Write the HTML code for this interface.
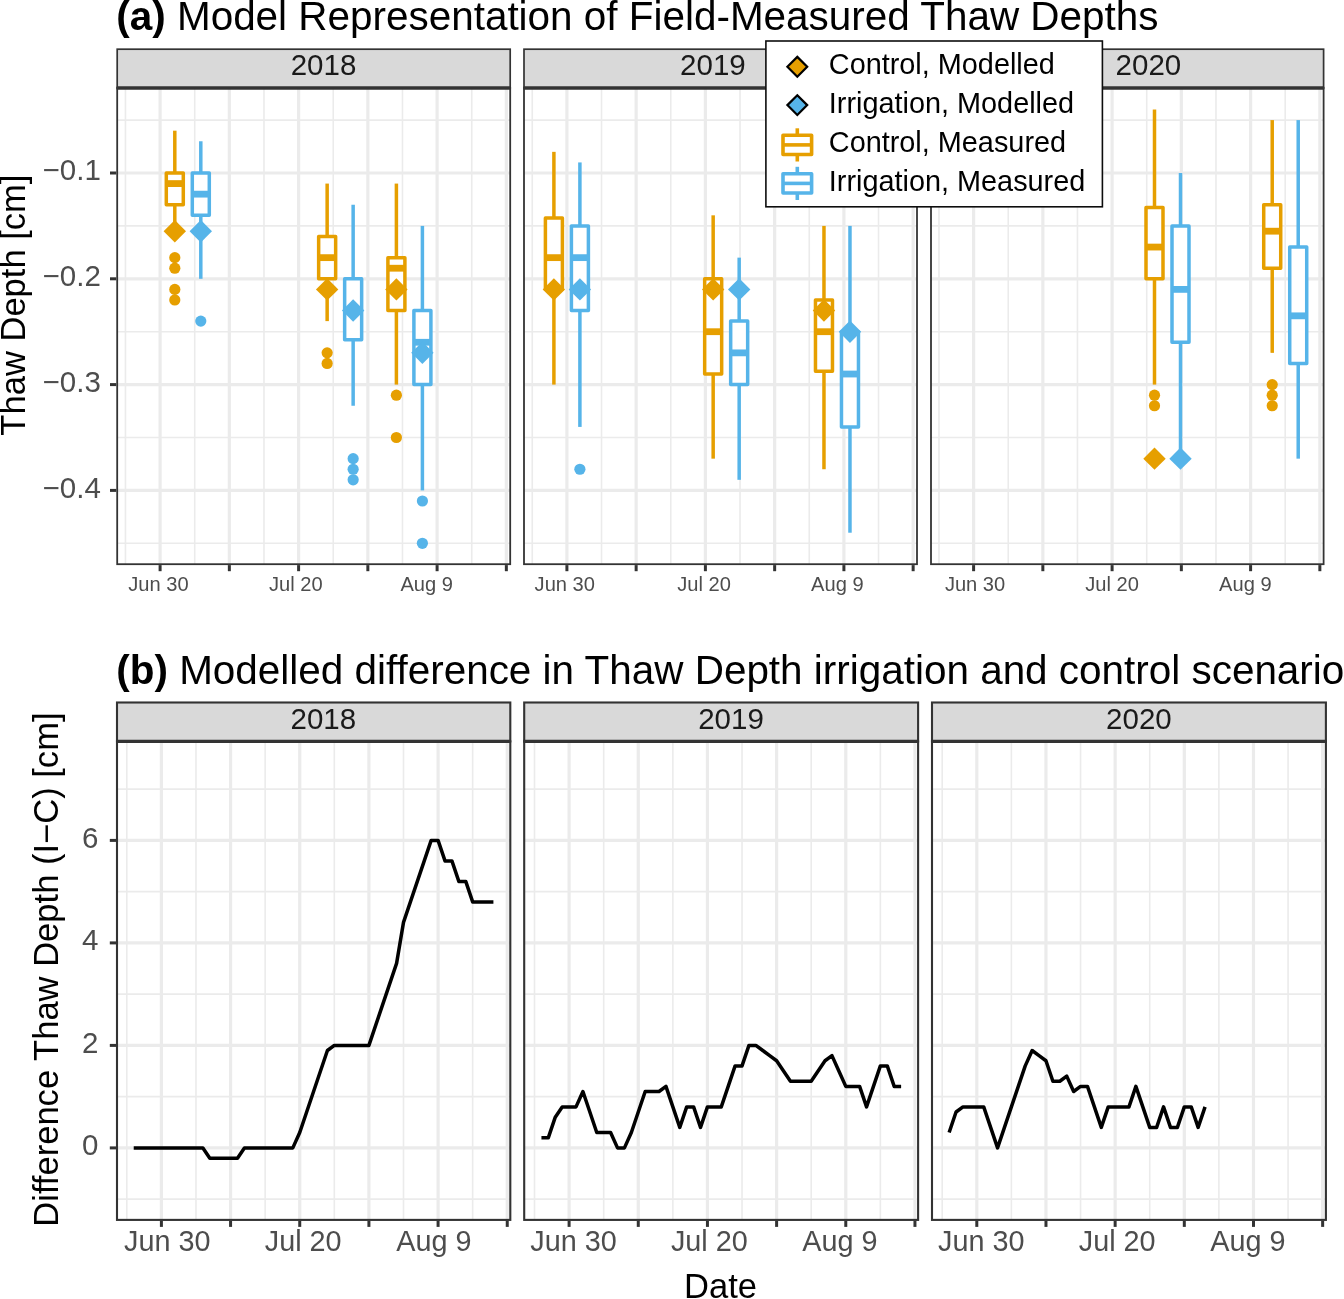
<!DOCTYPE html>
<html><head><meta charset="utf-8"><title>Thaw depth figure</title>
<style>html,body{margin:0;padding:0;background:#fff;}body{width:1344px;height:1299px;overflow:hidden;}svg{display:block;will-change:transform;}</style>
</head><body>
<svg width="1344" height="1299" viewBox="0 0 1344 1299" font-family='"Liberation Sans", sans-serif'>
<rect width="1344" height="1299" fill="#fff"/>
<text x="116.3" y="29.6" font-size="40.45" fill="#000"><tspan font-weight="bold">(a)</tspan> Model Representation of Field-Measured Thaw Depths</text>
<text x="116.3" y="683.5" font-size="40.45" fill="#000"><tspan font-weight="bold">(b)</tspan> Modelled difference in Thaw Depth irrigation and control scenario</text>
<text transform="translate(24.6 305.1) rotate(-90)" font-size="34.56" fill="#000" text-anchor="middle">Thaw Depth [cm]</text>
<text transform="translate(57.7 969.6) rotate(-90)" font-size="34.56" fill="#000" text-anchor="middle">Difference Thaw Depth (I−C) [cm]</text>
<text x="720.5" y="1297.5" font-size="34.56" fill="#000" text-anchor="middle">Date</text>
<rect x="117.2" y="88" width="393" height="476.2" fill="#fff"/>
<line x1="117.2" x2="510.2" y1="120.1" y2="120.1" stroke="#ebebeb" stroke-width="1.6"/>
<line x1="117.2" x2="510.2" y1="225.9" y2="225.9" stroke="#ebebeb" stroke-width="1.6"/>
<line x1="117.2" x2="510.2" y1="331.7" y2="331.7" stroke="#ebebeb" stroke-width="1.6"/>
<line x1="117.2" x2="510.2" y1="437.5" y2="437.5" stroke="#ebebeb" stroke-width="1.6"/>
<line x1="117.2" x2="510.2" y1="543.3" y2="543.3" stroke="#ebebeb" stroke-width="1.6"/>
<line x1="125.47" x2="125.47" y1="88" y2="564.2" stroke="#ebebeb" stroke-width="1.6"/>
<line x1="194.72" x2="194.72" y1="88" y2="564.2" stroke="#ebebeb" stroke-width="1.6"/>
<line x1="263.98" x2="263.98" y1="88" y2="564.2" stroke="#ebebeb" stroke-width="1.6"/>
<line x1="333.23" x2="333.23" y1="88" y2="564.2" stroke="#ebebeb" stroke-width="1.6"/>
<line x1="402.48" x2="402.48" y1="88" y2="564.2" stroke="#ebebeb" stroke-width="1.6"/>
<line x1="471.73" x2="471.73" y1="88" y2="564.2" stroke="#ebebeb" stroke-width="1.6"/>
<line x1="117.2" x2="510.2" y1="173" y2="173" stroke="#ebebeb" stroke-width="3.2"/>
<line x1="117.2" x2="510.2" y1="278.8" y2="278.8" stroke="#ebebeb" stroke-width="3.2"/>
<line x1="117.2" x2="510.2" y1="384.6" y2="384.6" stroke="#ebebeb" stroke-width="3.2"/>
<line x1="117.2" x2="510.2" y1="490.4" y2="490.4" stroke="#ebebeb" stroke-width="3.2"/>
<line x1="160.1" x2="160.1" y1="88" y2="564.2" stroke="#ebebeb" stroke-width="3.2"/>
<line x1="229.35" x2="229.35" y1="88" y2="564.2" stroke="#ebebeb" stroke-width="3.2"/>
<line x1="298.6" x2="298.6" y1="88" y2="564.2" stroke="#ebebeb" stroke-width="3.2"/>
<line x1="367.85" x2="367.85" y1="88" y2="564.2" stroke="#ebebeb" stroke-width="3.2"/>
<line x1="437.1" x2="437.1" y1="88" y2="564.2" stroke="#ebebeb" stroke-width="3.2"/>
<line x1="506.35" x2="506.35" y1="88" y2="564.2" stroke="#ebebeb" stroke-width="3.2"/>
<line x1="174.8" x2="174.8" y1="130.68" y2="173" stroke="#E69F00" stroke-width="3.5"/>
<line x1="174.8" x2="174.8" y1="204.74" y2="236.48" stroke="#E69F00" stroke-width="3.5"/>
<rect x="166.3" y="173" width="17" height="31.74" fill="#fff" stroke="#E69F00" stroke-width="3.5" stroke-linejoin="round"/>
<line x1="166.3" x2="183.3" y1="183.58" y2="183.58" stroke="#E69F00" stroke-width="6.8"/>
<circle cx="174.8" cy="257.64" r="5.6" fill="#E69F00"/>
<circle cx="174.8" cy="268.22" r="5.6" fill="#E69F00"/>
<circle cx="174.8" cy="289.38" r="5.6" fill="#E69F00"/>
<circle cx="174.8" cy="299.96" r="5.6" fill="#E69F00"/>
<line x1="200.8" x2="200.8" y1="141.26" y2="173" stroke="#56B4E9" stroke-width="3.5"/>
<line x1="200.8" x2="200.8" y1="215.32" y2="278.8" stroke="#56B4E9" stroke-width="3.5"/>
<rect x="192.3" y="173" width="17" height="42.32" fill="#fff" stroke="#56B4E9" stroke-width="3.5" stroke-linejoin="round"/>
<line x1="192.3" x2="209.3" y1="194.16" y2="194.16" stroke="#56B4E9" stroke-width="6.8"/>
<circle cx="200.8" cy="321.12" r="5.6" fill="#56B4E9"/>
<line x1="327.15" x2="327.15" y1="183.58" y2="236.48" stroke="#E69F00" stroke-width="3.5"/>
<line x1="327.15" x2="327.15" y1="278.8" y2="321.12" stroke="#E69F00" stroke-width="3.5"/>
<rect x="318.65" y="236.48" width="17" height="42.32" fill="#fff" stroke="#E69F00" stroke-width="3.5" stroke-linejoin="round"/>
<line x1="318.65" x2="335.65" y1="257.64" y2="257.64" stroke="#E69F00" stroke-width="6.8"/>
<circle cx="327.15" cy="352.86" r="5.6" fill="#E69F00"/>
<circle cx="327.15" cy="363.44" r="5.6" fill="#E69F00"/>
<line x1="353.15" x2="353.15" y1="204.74" y2="278.8" stroke="#56B4E9" stroke-width="3.5"/>
<line x1="353.15" x2="353.15" y1="339.63" y2="405.76" stroke="#56B4E9" stroke-width="3.5"/>
<rect x="344.65" y="278.8" width="17" height="60.83" fill="#fff" stroke="#56B4E9" stroke-width="3.5" stroke-linejoin="round"/>
<line x1="344.65" x2="361.65" y1="310.54" y2="310.54" stroke="#56B4E9" stroke-width="6.8"/>
<circle cx="353.15" cy="458.66" r="5.6" fill="#56B4E9"/>
<circle cx="353.15" cy="469.24" r="5.6" fill="#56B4E9"/>
<circle cx="353.15" cy="479.82" r="5.6" fill="#56B4E9"/>
<line x1="396.4" x2="396.4" y1="183.58" y2="257.64" stroke="#E69F00" stroke-width="3.5"/>
<line x1="396.4" x2="396.4" y1="310.54" y2="384.6" stroke="#E69F00" stroke-width="3.5"/>
<rect x="387.9" y="257.64" width="17" height="52.9" fill="#fff" stroke="#E69F00" stroke-width="3.5" stroke-linejoin="round"/>
<line x1="387.9" x2="404.9" y1="268.22" y2="268.22" stroke="#E69F00" stroke-width="6.8"/>
<circle cx="396.4" cy="395.18" r="5.6" fill="#E69F00"/>
<circle cx="396.4" cy="437.5" r="5.6" fill="#E69F00"/>
<line x1="422.4" x2="422.4" y1="225.9" y2="310.54" stroke="#56B4E9" stroke-width="3.5"/>
<line x1="422.4" x2="422.4" y1="384.6" y2="490.4" stroke="#56B4E9" stroke-width="3.5"/>
<rect x="413.9" y="310.54" width="17" height="74.06" fill="#fff" stroke="#56B4E9" stroke-width="3.5" stroke-linejoin="round"/>
<line x1="413.9" x2="430.9" y1="342.28" y2="342.28" stroke="#56B4E9" stroke-width="6.8"/>
<circle cx="422.4" cy="500.98" r="5.6" fill="#56B4E9"/>
<circle cx="422.4" cy="543.3" r="5.6" fill="#56B4E9"/>
<path d="M174.8 219.99L186 231.19L174.8 242.39L163.6 231.19Z" fill="#E69F00"/>
<path d="M200.8 219.99L212 231.19L200.8 242.39L189.6 231.19Z" fill="#56B4E9"/>
<path d="M327.15 278.18L338.35 289.38L327.15 300.58L315.95 289.38Z" fill="#E69F00"/>
<path d="M353.15 299.34L364.35 310.54L353.15 321.74L341.95 310.54Z" fill="#56B4E9"/>
<path d="M396.4 278.18L407.6 289.38L396.4 300.58L385.2 289.38Z" fill="#E69F00"/>
<path d="M422.4 341.66L433.6 352.86L422.4 364.06L411.2 352.86Z" fill="#56B4E9"/>
<rect x="117.2" y="49.2" width="393" height="38.8" fill="#d9d9d9" stroke="#333333" stroke-width="1.7"/>
<text x="323.5" y="75.4" font-size="29.5" fill="#1a1a1a" text-anchor="middle">2018</text>
<rect x="117.2" y="88" width="393" height="476.2" fill="none" stroke="#333333" stroke-width="1.8"/>
<line x1="116.7" x2="510.7" y1="88" y2="88" stroke="#333333" stroke-width="3.4"/>
<line x1="160.1" x2="160.1" y1="565.1" y2="571.2" stroke="#333333" stroke-width="3"/>
<line x1="229.35" x2="229.35" y1="565.1" y2="571.2" stroke="#333333" stroke-width="3"/>
<line x1="298.6" x2="298.6" y1="565.1" y2="571.2" stroke="#333333" stroke-width="3"/>
<line x1="367.85" x2="367.85" y1="565.1" y2="571.2" stroke="#333333" stroke-width="3"/>
<line x1="437.1" x2="437.1" y1="565.1" y2="571.2" stroke="#333333" stroke-width="3"/>
<line x1="506.35" x2="506.35" y1="565.1" y2="571.2" stroke="#333333" stroke-width="3"/>
<text x="128.3" y="590.5" font-size="20.1" fill="#4d4d4d">Jun 30</text>
<text x="269" y="590.5" font-size="20.1" fill="#4d4d4d">Jul 20</text>
<text x="400.4" y="590.5" font-size="20.1" fill="#4d4d4d">Aug 9</text>
<rect x="524" y="88" width="393" height="476.2" fill="#fff"/>
<line x1="524" x2="917" y1="120.1" y2="120.1" stroke="#ebebeb" stroke-width="1.6"/>
<line x1="524" x2="917" y1="225.9" y2="225.9" stroke="#ebebeb" stroke-width="1.6"/>
<line x1="524" x2="917" y1="331.7" y2="331.7" stroke="#ebebeb" stroke-width="1.6"/>
<line x1="524" x2="917" y1="437.5" y2="437.5" stroke="#ebebeb" stroke-width="1.6"/>
<line x1="524" x2="917" y1="543.3" y2="543.3" stroke="#ebebeb" stroke-width="1.6"/>
<line x1="532.27" x2="532.27" y1="88" y2="564.2" stroke="#ebebeb" stroke-width="1.6"/>
<line x1="601.52" x2="601.52" y1="88" y2="564.2" stroke="#ebebeb" stroke-width="1.6"/>
<line x1="670.77" x2="670.77" y1="88" y2="564.2" stroke="#ebebeb" stroke-width="1.6"/>
<line x1="740.02" x2="740.02" y1="88" y2="564.2" stroke="#ebebeb" stroke-width="1.6"/>
<line x1="809.27" x2="809.27" y1="88" y2="564.2" stroke="#ebebeb" stroke-width="1.6"/>
<line x1="878.52" x2="878.52" y1="88" y2="564.2" stroke="#ebebeb" stroke-width="1.6"/>
<line x1="524" x2="917" y1="173" y2="173" stroke="#ebebeb" stroke-width="3.2"/>
<line x1="524" x2="917" y1="278.8" y2="278.8" stroke="#ebebeb" stroke-width="3.2"/>
<line x1="524" x2="917" y1="384.6" y2="384.6" stroke="#ebebeb" stroke-width="3.2"/>
<line x1="524" x2="917" y1="490.4" y2="490.4" stroke="#ebebeb" stroke-width="3.2"/>
<line x1="566.9" x2="566.9" y1="88" y2="564.2" stroke="#ebebeb" stroke-width="3.2"/>
<line x1="636.15" x2="636.15" y1="88" y2="564.2" stroke="#ebebeb" stroke-width="3.2"/>
<line x1="705.4" x2="705.4" y1="88" y2="564.2" stroke="#ebebeb" stroke-width="3.2"/>
<line x1="774.65" x2="774.65" y1="88" y2="564.2" stroke="#ebebeb" stroke-width="3.2"/>
<line x1="843.9" x2="843.9" y1="88" y2="564.2" stroke="#ebebeb" stroke-width="3.2"/>
<line x1="913.15" x2="913.15" y1="88" y2="564.2" stroke="#ebebeb" stroke-width="3.2"/>
<line x1="553.9" x2="553.9" y1="151.84" y2="217.96" stroke="#E69F00" stroke-width="3.5"/>
<line x1="553.9" x2="553.9" y1="289.38" y2="384.6" stroke="#E69F00" stroke-width="3.5"/>
<rect x="545.4" y="217.96" width="17" height="71.42" fill="#fff" stroke="#E69F00" stroke-width="3.5" stroke-linejoin="round"/>
<line x1="545.4" x2="562.4" y1="257.64" y2="257.64" stroke="#E69F00" stroke-width="6.8"/>
<line x1="579.9" x2="579.9" y1="162.42" y2="225.9" stroke="#56B4E9" stroke-width="3.5"/>
<line x1="579.9" x2="579.9" y1="310.54" y2="426.92" stroke="#56B4E9" stroke-width="3.5"/>
<rect x="571.4" y="225.9" width="17" height="84.64" fill="#fff" stroke="#56B4E9" stroke-width="3.5" stroke-linejoin="round"/>
<line x1="571.4" x2="588.4" y1="257.64" y2="257.64" stroke="#56B4E9" stroke-width="6.8"/>
<circle cx="579.9" cy="469.24" r="5.6" fill="#56B4E9"/>
<line x1="713.17" x2="713.17" y1="215.32" y2="278.8" stroke="#E69F00" stroke-width="3.5"/>
<line x1="713.17" x2="713.17" y1="374.02" y2="458.66" stroke="#E69F00" stroke-width="3.5"/>
<rect x="704.67" y="278.8" width="17" height="95.22" fill="#fff" stroke="#E69F00" stroke-width="3.5" stroke-linejoin="round"/>
<line x1="704.67" x2="721.67" y1="331.7" y2="331.7" stroke="#E69F00" stroke-width="6.8"/>
<line x1="739.17" x2="739.17" y1="257.64" y2="321.12" stroke="#56B4E9" stroke-width="3.5"/>
<line x1="739.17" x2="739.17" y1="384.6" y2="479.82" stroke="#56B4E9" stroke-width="3.5"/>
<rect x="730.67" y="321.12" width="17" height="63.48" fill="#fff" stroke="#56B4E9" stroke-width="3.5" stroke-linejoin="round"/>
<line x1="730.67" x2="747.67" y1="352.86" y2="352.86" stroke="#56B4E9" stroke-width="6.8"/>
<line x1="823.97" x2="823.97" y1="225.9" y2="299.96" stroke="#E69F00" stroke-width="3.5"/>
<line x1="823.97" x2="823.97" y1="371.37" y2="469.24" stroke="#E69F00" stroke-width="3.5"/>
<rect x="815.47" y="299.96" width="17" height="71.41" fill="#fff" stroke="#E69F00" stroke-width="3.5" stroke-linejoin="round"/>
<line x1="815.47" x2="832.47" y1="331.7" y2="331.7" stroke="#E69F00" stroke-width="6.8"/>
<line x1="849.97" x2="849.97" y1="225.9" y2="331.7" stroke="#56B4E9" stroke-width="3.5"/>
<line x1="849.97" x2="849.97" y1="426.92" y2="532.72" stroke="#56B4E9" stroke-width="3.5"/>
<rect x="841.47" y="331.7" width="17" height="95.22" fill="#fff" stroke="#56B4E9" stroke-width="3.5" stroke-linejoin="round"/>
<line x1="841.47" x2="858.47" y1="374.02" y2="374.02" stroke="#56B4E9" stroke-width="6.8"/>
<path d="M553.9 278.18L565.1 289.38L553.9 300.58L542.7 289.38Z" fill="#E69F00"/>
<path d="M579.9 278.18L591.1 289.38L579.9 300.58L568.7 289.38Z" fill="#56B4E9"/>
<path d="M713.17 278.18L724.38 289.38L713.17 300.58L701.97 289.38Z" fill="#E69F00"/>
<path d="M739.17 278.18L750.38 289.38L739.17 300.58L727.97 289.38Z" fill="#56B4E9"/>
<path d="M823.97 299.34L835.17 310.54L823.97 321.74L812.77 310.54Z" fill="#E69F00"/>
<path d="M849.97 320.5L861.17 331.7L849.97 342.9L838.77 331.7Z" fill="#56B4E9"/>
<rect x="524" y="49.2" width="393" height="38.8" fill="#d9d9d9" stroke="#333333" stroke-width="1.7"/>
<text x="712.9" y="75.4" font-size="29.5" fill="#1a1a1a" text-anchor="middle">2019</text>
<rect x="524" y="88" width="393" height="476.2" fill="none" stroke="#333333" stroke-width="1.8"/>
<line x1="523.5" x2="917.5" y1="88" y2="88" stroke="#333333" stroke-width="3.4"/>
<line x1="566.9" x2="566.9" y1="565.1" y2="571.2" stroke="#333333" stroke-width="3"/>
<line x1="636.15" x2="636.15" y1="565.1" y2="571.2" stroke="#333333" stroke-width="3"/>
<line x1="705.4" x2="705.4" y1="565.1" y2="571.2" stroke="#333333" stroke-width="3"/>
<line x1="774.65" x2="774.65" y1="565.1" y2="571.2" stroke="#333333" stroke-width="3"/>
<line x1="843.9" x2="843.9" y1="565.1" y2="571.2" stroke="#333333" stroke-width="3"/>
<line x1="913.15" x2="913.15" y1="565.1" y2="571.2" stroke="#333333" stroke-width="3"/>
<text x="534.6" y="590.5" font-size="20.1" fill="#4d4d4d">Jun 30</text>
<text x="677.3" y="590.5" font-size="20.1" fill="#4d4d4d">Jul 20</text>
<text x="811.1" y="590.5" font-size="20.1" fill="#4d4d4d">Aug 9</text>
<rect x="931" y="88" width="392.6" height="476.2" fill="#fff"/>
<line x1="931" x2="1323.6" y1="120.1" y2="120.1" stroke="#ebebeb" stroke-width="1.6"/>
<line x1="931" x2="1323.6" y1="225.9" y2="225.9" stroke="#ebebeb" stroke-width="1.6"/>
<line x1="931" x2="1323.6" y1="331.7" y2="331.7" stroke="#ebebeb" stroke-width="1.6"/>
<line x1="931" x2="1323.6" y1="437.5" y2="437.5" stroke="#ebebeb" stroke-width="1.6"/>
<line x1="931" x2="1323.6" y1="543.3" y2="543.3" stroke="#ebebeb" stroke-width="1.6"/>
<line x1="938.98" x2="938.98" y1="88" y2="564.2" stroke="#ebebeb" stroke-width="1.6"/>
<line x1="1008.23" x2="1008.23" y1="88" y2="564.2" stroke="#ebebeb" stroke-width="1.6"/>
<line x1="1077.47" x2="1077.47" y1="88" y2="564.2" stroke="#ebebeb" stroke-width="1.6"/>
<line x1="1146.72" x2="1146.72" y1="88" y2="564.2" stroke="#ebebeb" stroke-width="1.6"/>
<line x1="1215.97" x2="1215.97" y1="88" y2="564.2" stroke="#ebebeb" stroke-width="1.6"/>
<line x1="1285.22" x2="1285.22" y1="88" y2="564.2" stroke="#ebebeb" stroke-width="1.6"/>
<line x1="931" x2="1323.6" y1="173" y2="173" stroke="#ebebeb" stroke-width="3.2"/>
<line x1="931" x2="1323.6" y1="278.8" y2="278.8" stroke="#ebebeb" stroke-width="3.2"/>
<line x1="931" x2="1323.6" y1="384.6" y2="384.6" stroke="#ebebeb" stroke-width="3.2"/>
<line x1="931" x2="1323.6" y1="490.4" y2="490.4" stroke="#ebebeb" stroke-width="3.2"/>
<line x1="973.6" x2="973.6" y1="88" y2="564.2" stroke="#ebebeb" stroke-width="3.2"/>
<line x1="1042.85" x2="1042.85" y1="88" y2="564.2" stroke="#ebebeb" stroke-width="3.2"/>
<line x1="1112.1" x2="1112.1" y1="88" y2="564.2" stroke="#ebebeb" stroke-width="3.2"/>
<line x1="1181.35" x2="1181.35" y1="88" y2="564.2" stroke="#ebebeb" stroke-width="3.2"/>
<line x1="1250.6" x2="1250.6" y1="88" y2="564.2" stroke="#ebebeb" stroke-width="3.2"/>
<line x1="1319.85" x2="1319.85" y1="88" y2="564.2" stroke="#ebebeb" stroke-width="3.2"/>
<line x1="1154.5" x2="1154.5" y1="109.52" y2="207.38" stroke="#E69F00" stroke-width="3.5"/>
<line x1="1154.5" x2="1154.5" y1="278.8" y2="384.6" stroke="#E69F00" stroke-width="3.5"/>
<rect x="1146" y="207.38" width="17" height="71.42" fill="#fff" stroke="#E69F00" stroke-width="3.5" stroke-linejoin="round"/>
<line x1="1146" x2="1163" y1="247.06" y2="247.06" stroke="#E69F00" stroke-width="6.8"/>
<circle cx="1154.5" cy="395.18" r="5.6" fill="#E69F00"/>
<circle cx="1154.5" cy="405.76" r="5.6" fill="#E69F00"/>
<line x1="1180.5" x2="1180.5" y1="173" y2="225.9" stroke="#56B4E9" stroke-width="3.5"/>
<line x1="1180.5" x2="1180.5" y1="342.28" y2="458.66" stroke="#56B4E9" stroke-width="3.5"/>
<rect x="1172" y="225.9" width="17" height="116.38" fill="#fff" stroke="#56B4E9" stroke-width="3.5" stroke-linejoin="round"/>
<line x1="1172" x2="1189" y1="289.38" y2="289.38" stroke="#56B4E9" stroke-width="6.8"/>
<line x1="1272.22" x2="1272.22" y1="120.1" y2="204.74" stroke="#E69F00" stroke-width="3.5"/>
<line x1="1272.22" x2="1272.22" y1="268.22" y2="352.86" stroke="#E69F00" stroke-width="3.5"/>
<rect x="1263.72" y="204.74" width="17" height="63.48" fill="#fff" stroke="#E69F00" stroke-width="3.5" stroke-linejoin="round"/>
<line x1="1263.72" x2="1280.72" y1="231.19" y2="231.19" stroke="#E69F00" stroke-width="6.8"/>
<circle cx="1272.22" cy="384.6" r="5.6" fill="#E69F00"/>
<circle cx="1272.22" cy="395.18" r="5.6" fill="#E69F00"/>
<circle cx="1272.22" cy="405.76" r="5.6" fill="#E69F00"/>
<line x1="1298.22" x2="1298.22" y1="120.1" y2="247.06" stroke="#56B4E9" stroke-width="3.5"/>
<line x1="1298.22" x2="1298.22" y1="363.44" y2="458.66" stroke="#56B4E9" stroke-width="3.5"/>
<rect x="1289.72" y="247.06" width="17" height="116.38" fill="#fff" stroke="#56B4E9" stroke-width="3.5" stroke-linejoin="round"/>
<line x1="1289.72" x2="1306.72" y1="315.83" y2="315.83" stroke="#56B4E9" stroke-width="6.8"/>
<path d="M1154.5 447.46L1165.7 458.66L1154.5 469.86L1143.3 458.66Z" fill="#E69F00"/>
<path d="M1180.5 447.46L1191.7 458.66L1180.5 469.86L1169.3 458.66Z" fill="#56B4E9"/>
<rect x="931" y="49.2" width="392.6" height="38.8" fill="#d9d9d9" stroke="#333333" stroke-width="1.7"/>
<text x="1148.4" y="75.4" font-size="29.5" fill="#1a1a1a" text-anchor="middle">2020</text>
<rect x="931" y="88" width="392.6" height="476.2" fill="none" stroke="#333333" stroke-width="1.8"/>
<line x1="930.5" x2="1324.1" y1="88" y2="88" stroke="#333333" stroke-width="3.4"/>
<line x1="973.6" x2="973.6" y1="565.1" y2="571.2" stroke="#333333" stroke-width="3"/>
<line x1="1042.85" x2="1042.85" y1="565.1" y2="571.2" stroke="#333333" stroke-width="3"/>
<line x1="1112.1" x2="1112.1" y1="565.1" y2="571.2" stroke="#333333" stroke-width="3"/>
<line x1="1181.35" x2="1181.35" y1="565.1" y2="571.2" stroke="#333333" stroke-width="3"/>
<line x1="1250.6" x2="1250.6" y1="565.1" y2="571.2" stroke="#333333" stroke-width="3"/>
<line x1="1319.85" x2="1319.85" y1="565.1" y2="571.2" stroke="#333333" stroke-width="3"/>
<text x="944.9" y="590.5" font-size="20.1" fill="#4d4d4d">Jun 30</text>
<text x="1085.2" y="590.5" font-size="20.1" fill="#4d4d4d">Jul 20</text>
<text x="1219.1" y="590.5" font-size="20.1" fill="#4d4d4d">Aug 9</text>
<line x1="110" x2="116.3" y1="173" y2="173" stroke="#333333" stroke-width="3"/>
<text x="100.8" y="180.3" font-size="29.5" fill="#4d4d4d" text-anchor="end">−0.1</text>
<line x1="110" x2="116.3" y1="278.8" y2="278.8" stroke="#333333" stroke-width="3"/>
<text x="100.8" y="286.1" font-size="29.5" fill="#4d4d4d" text-anchor="end">−0.2</text>
<line x1="110" x2="116.3" y1="384.6" y2="384.6" stroke="#333333" stroke-width="3"/>
<text x="100.8" y="391.9" font-size="29.5" fill="#4d4d4d" text-anchor="end">−0.3</text>
<line x1="110" x2="116.3" y1="490.4" y2="490.4" stroke="#333333" stroke-width="3"/>
<text x="100.8" y="497.7" font-size="29.5" fill="#4d4d4d" text-anchor="end">−0.4</text>
<rect x="117" y="741.4" width="393.3" height="478.5" fill="#fff"/>
<line x1="117" x2="510.3" y1="1199.15" y2="1199.15" stroke="#ebebeb" stroke-width="1.6"/>
<line x1="117" x2="510.3" y1="1096.65" y2="1096.65" stroke="#ebebeb" stroke-width="1.6"/>
<line x1="117" x2="510.3" y1="994.15" y2="994.15" stroke="#ebebeb" stroke-width="1.6"/>
<line x1="117" x2="510.3" y1="891.65" y2="891.65" stroke="#ebebeb" stroke-width="1.6"/>
<line x1="117" x2="510.3" y1="789.15" y2="789.15" stroke="#ebebeb" stroke-width="1.6"/>
<line x1="126.81" x2="126.81" y1="741.4" y2="1219.9" stroke="#ebebeb" stroke-width="1.6"/>
<line x1="195.99" x2="195.99" y1="741.4" y2="1219.9" stroke="#ebebeb" stroke-width="1.6"/>
<line x1="265.15" x2="265.15" y1="741.4" y2="1219.9" stroke="#ebebeb" stroke-width="1.6"/>
<line x1="334.32" x2="334.32" y1="741.4" y2="1219.9" stroke="#ebebeb" stroke-width="1.6"/>
<line x1="403.5" x2="403.5" y1="741.4" y2="1219.9" stroke="#ebebeb" stroke-width="1.6"/>
<line x1="472.66" x2="472.66" y1="741.4" y2="1219.9" stroke="#ebebeb" stroke-width="1.6"/>
<line x1="117" x2="510.3" y1="1147.9" y2="1147.9" stroke="#ebebeb" stroke-width="3.2"/>
<line x1="117" x2="510.3" y1="1045.4" y2="1045.4" stroke="#ebebeb" stroke-width="3.2"/>
<line x1="117" x2="510.3" y1="942.9" y2="942.9" stroke="#ebebeb" stroke-width="3.2"/>
<line x1="117" x2="510.3" y1="840.4" y2="840.4" stroke="#ebebeb" stroke-width="3.2"/>
<line x1="161.4" x2="161.4" y1="741.4" y2="1219.9" stroke="#ebebeb" stroke-width="3.2"/>
<line x1="230.57" x2="230.57" y1="741.4" y2="1219.9" stroke="#ebebeb" stroke-width="3.2"/>
<line x1="299.74" x2="299.74" y1="741.4" y2="1219.9" stroke="#ebebeb" stroke-width="3.2"/>
<line x1="368.91" x2="368.91" y1="741.4" y2="1219.9" stroke="#ebebeb" stroke-width="3.2"/>
<line x1="438.08" x2="438.08" y1="741.4" y2="1219.9" stroke="#ebebeb" stroke-width="3.2"/>
<line x1="507.25" x2="507.25" y1="741.4" y2="1219.9" stroke="#ebebeb" stroke-width="3.2"/>
<polyline points="133.73,1147.9 140.65,1147.9 147.57,1147.9 154.48,1147.9 161.4,1147.9 168.32,1147.9 175.23,1147.9 182.15,1147.9 189.07,1147.9 195.99,1147.9 202.9,1147.9 209.82,1158.15 216.74,1158.15 223.65,1158.15 230.57,1158.15 237.49,1158.15 244.4,1147.9 251.32,1147.9 258.24,1147.9 265.15,1147.9 272.07,1147.9 278.99,1147.9 285.91,1147.9 292.82,1147.9 299.74,1132.53 306.66,1112.03 313.57,1091.53 320.49,1071.03 327.41,1050.53 334.32,1045.4 341.24,1045.4 348.16,1045.4 355.08,1045.4 361.99,1045.4 368.91,1045.4 375.83,1024.9 382.74,1004.4 389.66,983.9 396.58,963.4 403.5,922.4 410.41,901.9 417.33,881.4 424.25,860.9 431.16,840.4 438.08,840.4 445,860.9 451.91,860.9 458.83,881.4 465.75,881.4 472.66,901.9 479.58,901.9 486.5,901.9 493.42,901.9" fill="none" stroke="#000" stroke-width="3.5" stroke-linejoin="round" stroke-linecap="butt"/>
<rect x="117" y="702.5" width="393.3" height="38.9" fill="#d9d9d9" stroke="#333333" stroke-width="2.1"/>
<text x="323.3" y="728.9" font-size="29.5" fill="#1a1a1a" text-anchor="middle">2018</text>
<rect x="117" y="741.4" width="393.3" height="478.5" fill="none" stroke="#333333" stroke-width="2.1"/>
<line x1="116.35" x2="510.95" y1="741.4" y2="741.4" stroke="#333333" stroke-width="3.4"/>
<line x1="161.4" x2="161.4" y1="1220.8" y2="1226.9" stroke="#333333" stroke-width="3"/>
<line x1="230.57" x2="230.57" y1="1220.8" y2="1226.9" stroke="#333333" stroke-width="3"/>
<line x1="299.74" x2="299.74" y1="1220.8" y2="1226.9" stroke="#333333" stroke-width="3"/>
<line x1="368.91" x2="368.91" y1="1220.8" y2="1226.9" stroke="#333333" stroke-width="3"/>
<line x1="438.08" x2="438.08" y1="1220.8" y2="1226.9" stroke="#333333" stroke-width="3"/>
<line x1="507.25" x2="507.25" y1="1220.8" y2="1226.9" stroke="#333333" stroke-width="3"/>
<text x="124" y="1251.4" font-size="28.8" fill="#4d4d4d">Jun 30</text>
<text x="264.8" y="1251.4" font-size="28.8" fill="#4d4d4d">Jul 20</text>
<text x="396.3" y="1251.4" font-size="28.8" fill="#4d4d4d">Aug 9</text>
<rect x="524.2" y="741.4" width="393.9" height="478.5" fill="#fff"/>
<line x1="524.2" x2="918.1" y1="1199.15" y2="1199.15" stroke="#ebebeb" stroke-width="1.6"/>
<line x1="524.2" x2="918.1" y1="1096.65" y2="1096.65" stroke="#ebebeb" stroke-width="1.6"/>
<line x1="524.2" x2="918.1" y1="994.15" y2="994.15" stroke="#ebebeb" stroke-width="1.6"/>
<line x1="524.2" x2="918.1" y1="891.65" y2="891.65" stroke="#ebebeb" stroke-width="1.6"/>
<line x1="524.2" x2="918.1" y1="789.15" y2="789.15" stroke="#ebebeb" stroke-width="1.6"/>
<line x1="534.51" x2="534.51" y1="741.4" y2="1219.9" stroke="#ebebeb" stroke-width="1.6"/>
<line x1="603.69" x2="603.69" y1="741.4" y2="1219.9" stroke="#ebebeb" stroke-width="1.6"/>
<line x1="672.86" x2="672.86" y1="741.4" y2="1219.9" stroke="#ebebeb" stroke-width="1.6"/>
<line x1="742.02" x2="742.02" y1="741.4" y2="1219.9" stroke="#ebebeb" stroke-width="1.6"/>
<line x1="811.2" x2="811.2" y1="741.4" y2="1219.9" stroke="#ebebeb" stroke-width="1.6"/>
<line x1="880.37" x2="880.37" y1="741.4" y2="1219.9" stroke="#ebebeb" stroke-width="1.6"/>
<line x1="524.2" x2="918.1" y1="1147.9" y2="1147.9" stroke="#ebebeb" stroke-width="3.2"/>
<line x1="524.2" x2="918.1" y1="1045.4" y2="1045.4" stroke="#ebebeb" stroke-width="3.2"/>
<line x1="524.2" x2="918.1" y1="942.9" y2="942.9" stroke="#ebebeb" stroke-width="3.2"/>
<line x1="524.2" x2="918.1" y1="840.4" y2="840.4" stroke="#ebebeb" stroke-width="3.2"/>
<line x1="569.1" x2="569.1" y1="741.4" y2="1219.9" stroke="#ebebeb" stroke-width="3.2"/>
<line x1="638.27" x2="638.27" y1="741.4" y2="1219.9" stroke="#ebebeb" stroke-width="3.2"/>
<line x1="707.44" x2="707.44" y1="741.4" y2="1219.9" stroke="#ebebeb" stroke-width="3.2"/>
<line x1="776.61" x2="776.61" y1="741.4" y2="1219.9" stroke="#ebebeb" stroke-width="3.2"/>
<line x1="845.78" x2="845.78" y1="741.4" y2="1219.9" stroke="#ebebeb" stroke-width="3.2"/>
<line x1="914.95" x2="914.95" y1="741.4" y2="1219.9" stroke="#ebebeb" stroke-width="3.2"/>
<polyline points="541.43,1137.65 548.35,1137.65 555.27,1117.15 562.18,1106.9 569.1,1106.9 576.02,1106.9 582.93,1091.53 589.85,1112.03 596.77,1132.53 603.69,1132.53 610.6,1132.53 617.52,1147.9 624.44,1147.9 631.35,1132.53 638.27,1112.03 645.19,1091.53 652.1,1091.53 659.02,1091.53 665.94,1086.4 672.86,1106.9 679.77,1127.4 686.69,1106.9 693.61,1106.9 700.52,1127.4 707.44,1106.9 714.36,1106.9 721.27,1106.9 728.19,1086.4 735.11,1065.9 742.02,1065.9 748.94,1045.4 755.86,1045.4 762.78,1050.53 769.69,1055.65 776.61,1060.78 783.53,1071.03 790.44,1081.28 797.36,1081.28 804.28,1081.28 811.2,1081.28 818.11,1071.03 825.03,1060.78 831.95,1055.65 838.86,1071.03 845.78,1086.4 852.7,1086.4 859.61,1086.4 866.53,1106.9 873.45,1086.4 880.37,1065.9 887.28,1065.9 894.2,1086.4 901.12,1086.4" fill="none" stroke="#000" stroke-width="3.5" stroke-linejoin="round" stroke-linecap="butt"/>
<rect x="524.2" y="702.5" width="393.9" height="38.9" fill="#d9d9d9" stroke="#333333" stroke-width="2.1"/>
<text x="731" y="728.9" font-size="29.5" fill="#1a1a1a" text-anchor="middle">2019</text>
<rect x="524.2" y="741.4" width="393.9" height="478.5" fill="none" stroke="#333333" stroke-width="2.1"/>
<line x1="523.55" x2="918.75" y1="741.4" y2="741.4" stroke="#333333" stroke-width="3.4"/>
<line x1="569.1" x2="569.1" y1="1220.8" y2="1226.9" stroke="#333333" stroke-width="3"/>
<line x1="638.27" x2="638.27" y1="1220.8" y2="1226.9" stroke="#333333" stroke-width="3"/>
<line x1="707.44" x2="707.44" y1="1220.8" y2="1226.9" stroke="#333333" stroke-width="3"/>
<line x1="776.61" x2="776.61" y1="1220.8" y2="1226.9" stroke="#333333" stroke-width="3"/>
<line x1="845.78" x2="845.78" y1="1220.8" y2="1226.9" stroke="#333333" stroke-width="3"/>
<line x1="914.95" x2="914.95" y1="1220.8" y2="1226.9" stroke="#333333" stroke-width="3"/>
<text x="530.3" y="1251.4" font-size="28.8" fill="#4d4d4d">Jun 30</text>
<text x="670.9" y="1251.4" font-size="28.8" fill="#4d4d4d">Jul 20</text>
<text x="802.3" y="1251.4" font-size="28.8" fill="#4d4d4d">Aug 9</text>
<rect x="932" y="741.4" width="393.9" height="478.5" fill="#fff"/>
<line x1="932" x2="1325.9" y1="1199.15" y2="1199.15" stroke="#ebebeb" stroke-width="1.6"/>
<line x1="932" x2="1325.9" y1="1096.65" y2="1096.65" stroke="#ebebeb" stroke-width="1.6"/>
<line x1="932" x2="1325.9" y1="994.15" y2="994.15" stroke="#ebebeb" stroke-width="1.6"/>
<line x1="932" x2="1325.9" y1="891.65" y2="891.65" stroke="#ebebeb" stroke-width="1.6"/>
<line x1="932" x2="1325.9" y1="789.15" y2="789.15" stroke="#ebebeb" stroke-width="1.6"/>
<line x1="942.21" x2="942.21" y1="741.4" y2="1219.9" stroke="#ebebeb" stroke-width="1.6"/>
<line x1="1011.38" x2="1011.38" y1="741.4" y2="1219.9" stroke="#ebebeb" stroke-width="1.6"/>
<line x1="1080.55" x2="1080.55" y1="741.4" y2="1219.9" stroke="#ebebeb" stroke-width="1.6"/>
<line x1="1149.72" x2="1149.72" y1="741.4" y2="1219.9" stroke="#ebebeb" stroke-width="1.6"/>
<line x1="1218.89" x2="1218.89" y1="741.4" y2="1219.9" stroke="#ebebeb" stroke-width="1.6"/>
<line x1="1288.07" x2="1288.07" y1="741.4" y2="1219.9" stroke="#ebebeb" stroke-width="1.6"/>
<line x1="932" x2="1325.9" y1="1147.9" y2="1147.9" stroke="#ebebeb" stroke-width="3.2"/>
<line x1="932" x2="1325.9" y1="1045.4" y2="1045.4" stroke="#ebebeb" stroke-width="3.2"/>
<line x1="932" x2="1325.9" y1="942.9" y2="942.9" stroke="#ebebeb" stroke-width="3.2"/>
<line x1="932" x2="1325.9" y1="840.4" y2="840.4" stroke="#ebebeb" stroke-width="3.2"/>
<line x1="976.8" x2="976.8" y1="741.4" y2="1219.9" stroke="#ebebeb" stroke-width="3.2"/>
<line x1="1045.97" x2="1045.97" y1="741.4" y2="1219.9" stroke="#ebebeb" stroke-width="3.2"/>
<line x1="1115.14" x2="1115.14" y1="741.4" y2="1219.9" stroke="#ebebeb" stroke-width="3.2"/>
<line x1="1184.31" x2="1184.31" y1="741.4" y2="1219.9" stroke="#ebebeb" stroke-width="3.2"/>
<line x1="1253.48" x2="1253.48" y1="741.4" y2="1219.9" stroke="#ebebeb" stroke-width="3.2"/>
<line x1="1322.65" x2="1322.65" y1="741.4" y2="1219.9" stroke="#ebebeb" stroke-width="3.2"/>
<polyline points="949.13,1132.53 956.05,1112.03 962.97,1106.9 969.88,1106.9 976.8,1106.9 983.72,1106.9 990.63,1127.4 997.55,1147.9 1004.47,1127.4 1011.38,1106.9 1018.3,1086.4 1025.22,1065.9 1032.14,1050.53 1039.05,1055.65 1045.97,1060.78 1052.89,1081.28 1059.8,1081.28 1066.72,1076.15 1073.64,1091.53 1080.55,1086.4 1087.47,1086.4 1094.39,1106.9 1101.31,1127.4 1108.22,1106.9 1115.14,1106.9 1122.06,1106.9 1128.97,1106.9 1135.89,1086.4 1142.81,1106.9 1149.72,1127.4 1156.64,1127.4 1163.56,1106.9 1170.48,1127.4 1177.39,1127.4 1184.31,1106.9 1191.23,1106.9 1198.14,1127.4 1205.06,1106.9" fill="none" stroke="#000" stroke-width="3.5" stroke-linejoin="round" stroke-linecap="butt"/>
<rect x="932" y="702.5" width="393.9" height="38.9" fill="#d9d9d9" stroke="#333333" stroke-width="2.1"/>
<text x="1138.9" y="728.9" font-size="29.5" fill="#1a1a1a" text-anchor="middle">2020</text>
<rect x="932" y="741.4" width="393.9" height="478.5" fill="none" stroke="#333333" stroke-width="2.1"/>
<line x1="931.35" x2="1326.55" y1="741.4" y2="741.4" stroke="#333333" stroke-width="3.4"/>
<line x1="976.8" x2="976.8" y1="1220.8" y2="1226.9" stroke="#333333" stroke-width="3"/>
<line x1="1045.97" x2="1045.97" y1="1220.8" y2="1226.9" stroke="#333333" stroke-width="3"/>
<line x1="1115.14" x2="1115.14" y1="1220.8" y2="1226.9" stroke="#333333" stroke-width="3"/>
<line x1="1184.31" x2="1184.31" y1="1220.8" y2="1226.9" stroke="#333333" stroke-width="3"/>
<line x1="1253.48" x2="1253.48" y1="1220.8" y2="1226.9" stroke="#333333" stroke-width="3"/>
<line x1="1322.65" x2="1322.65" y1="1220.8" y2="1226.9" stroke="#333333" stroke-width="3"/>
<text x="938" y="1251.4" font-size="28.8" fill="#4d4d4d">Jun 30</text>
<text x="1078.8" y="1251.4" font-size="28.8" fill="#4d4d4d">Jul 20</text>
<text x="1210.3" y="1251.4" font-size="28.8" fill="#4d4d4d">Aug 9</text>
<line x1="109.8" x2="116.1" y1="1147.9" y2="1147.9" stroke="#333333" stroke-width="3"/>
<text x="98.3" y="1155.2" font-size="29.5" fill="#4d4d4d" text-anchor="end">0</text>
<line x1="109.8" x2="116.1" y1="1045.4" y2="1045.4" stroke="#333333" stroke-width="3"/>
<text x="98.3" y="1052.7" font-size="29.5" fill="#4d4d4d" text-anchor="end">2</text>
<line x1="109.8" x2="116.1" y1="942.9" y2="942.9" stroke="#333333" stroke-width="3"/>
<text x="98.3" y="950.2" font-size="29.5" fill="#4d4d4d" text-anchor="end">4</text>
<line x1="109.8" x2="116.1" y1="840.4" y2="840.4" stroke="#333333" stroke-width="3"/>
<text x="98.3" y="847.7" font-size="29.5" fill="#4d4d4d" text-anchor="end">6</text>
<rect x="765.9" y="41.0" width="336.5" height="165.8" fill="#fff" stroke="#0d0d0d" stroke-width="1.6"/>
<path d="M797.3 56.9L807.2 66.8L797.3 76.7L787.4 66.8Z" fill="#E69F00" stroke="#000" stroke-width="2.2" stroke-linejoin="miter"/>
<path d="M797.3 95.2L807.2 105.1L797.3 115L787.4 105.1Z" fill="#56B4E9" stroke="#000" stroke-width="2.2" stroke-linejoin="miter"/>
<line x1="797.3" x2="797.3" y1="128.3" y2="161.5" stroke="#E69F00" stroke-width="3.6"/>
<rect x="783" y="135.3" width="28.6" height="19.2" fill="#fff" stroke="#E69F00" stroke-width="3.6" stroke-linejoin="round"/>
<line x1="783" x2="811.6" y1="144.9" y2="144.9" stroke="#E69F00" stroke-width="3.6"/>
<line x1="797.3" x2="797.3" y1="166.8" y2="200" stroke="#56B4E9" stroke-width="3.6"/>
<rect x="783" y="173.8" width="28.6" height="19.2" fill="#fff" stroke="#56B4E9" stroke-width="3.6" stroke-linejoin="round"/>
<line x1="783" x2="811.6" y1="183.4" y2="183.4" stroke="#56B4E9" stroke-width="3.6"/>
<text x="828.8" y="73.8" font-size="28.85" fill="#000">Control, Modelled</text>
<text x="828.8" y="112.5" font-size="28.85" fill="#000">Irrigation, Modelled</text>
<text x="828.8" y="152.1" font-size="28.85" fill="#000">Control, Measured</text>
<text x="828.8" y="191" font-size="28.85" fill="#000">Irrigation, Measured</text>
</svg>
</body></html>
